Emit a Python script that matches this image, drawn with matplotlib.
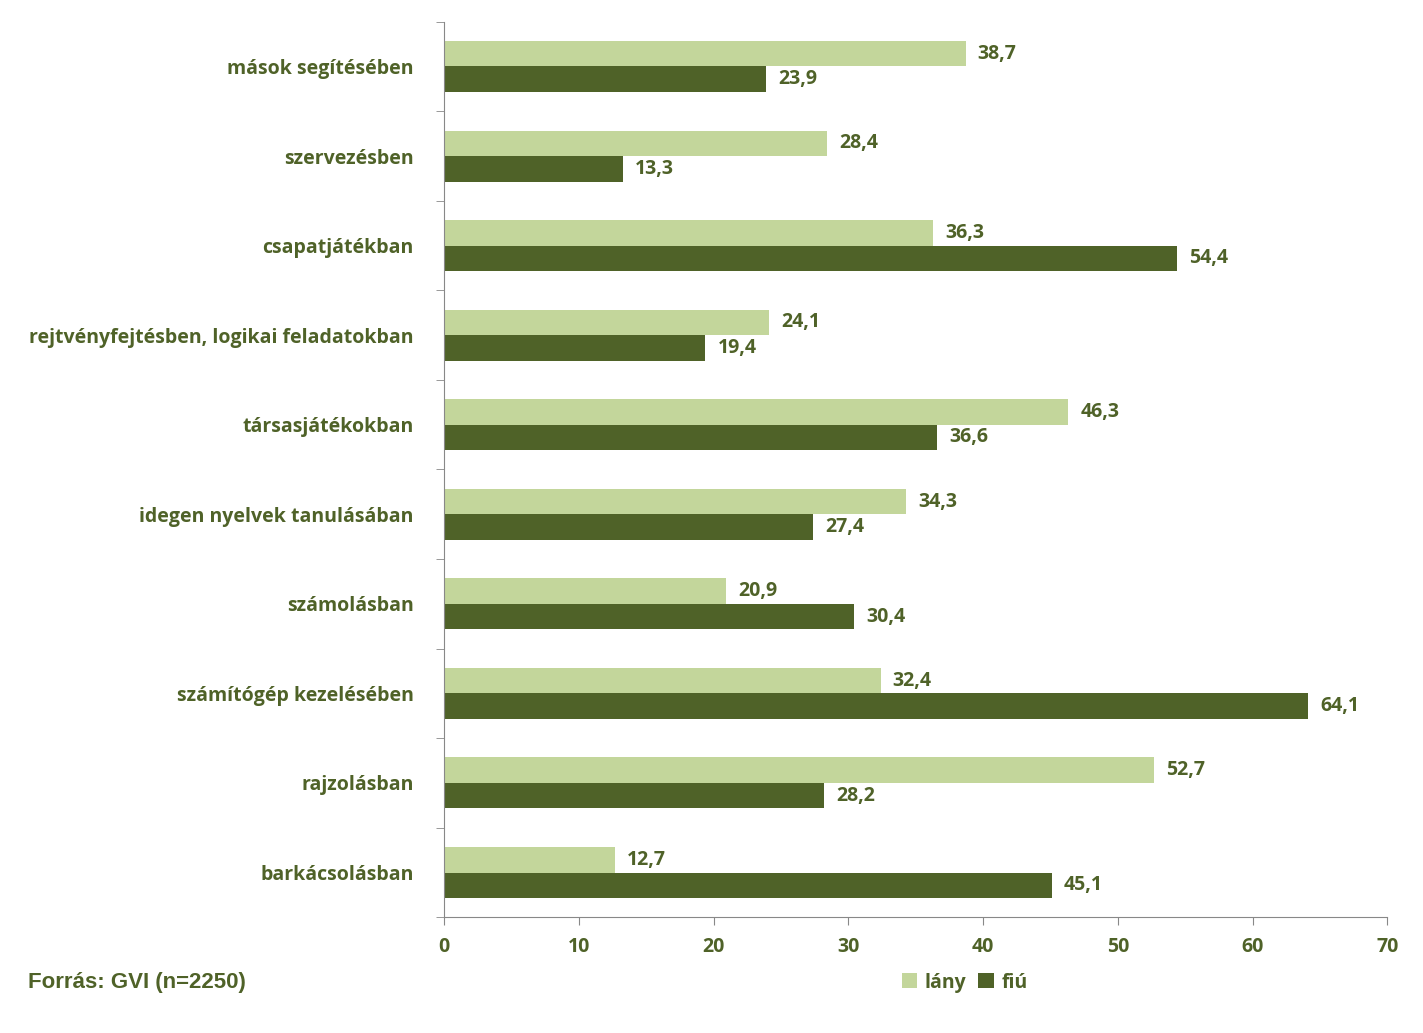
import matplotlib
matplotlib.use("Agg")
import matplotlib.pyplot as plt
import numpy as np

categories = ["mások segítésében", "szervezésben", "csapatjátékban",
              "rejtvényfejtésben, logikai feladatokban", "társasjátékokban",
              "idegen nyelvek tanulásában", "számolásban", "számítógép kezelésében",
              "rajzolásban", "barkácsolásban"]
lany = [38.7, 28.4, 36.3, 24.1, 46.3, 34.3, 20.9, 32.4, 52.7, 12.7]
fiu = [23.9, 13.3, 54.4, 19.4, 36.6, 27.4, 30.4, 64.1, 28.2, 45.1]
xticks = [0, 10, 20, 30, 40, 50, 60, 70]

light = "#C3D69B"
dark = "#4F6228"
tc = "#4F6228"
font = "Open Sans"

fig = plt.figure(figsize=(14.23, 10.33), dpi=100)
ax = fig.add_axes([0.312, 0.112, 0.663, 0.867])
n = len(categories)
y = np.arange(n)[::-1].astype(float)
h = 0.285
ax.barh(y + h/2, lany, height=h, color=light, label="lány")
ax.barh(y - h/2, fiu, height=h, color=dark, label="fiú")
for yi, a, b in zip(y, lany, fiu):
    ax.text(a + 0.9, yi + h/2, f"{a:.1f}".replace(".", ","), va="center", ha="left",
            fontsize=14, fontweight="bold", color=tc, family=font)
    ax.text(b + 0.9, yi - h/2, f"{b:.1f}".replace(".", ","), va="center", ha="left",
            fontsize=14, fontweight="bold", color=tc, family=font)
ax.set_xlim(0, 70)
ax.set_ylim(-0.5, n - 0.5)
ax.set_xticks(xticks)
ax.set_xticklabels([str(t) for t in xticks], fontsize=14, fontweight="bold", color=tc, family=font)
ax.set_yticks(y)
ax.set_yticklabels(categories, fontsize=14, fontweight="bold", color=tc, family=font)
ax.set_yticks(np.arange(n + 1) - 0.5, minor=True)
ax.tick_params(axis="y", which="major", length=0, pad=22)
ax.tick_params(axis="y", which="minor", length=6, color="#888888")
ax.tick_params(axis="x", length=6, color="#888888", pad=8)
for s in ["top", "right"]:
    ax.spines[s].set_visible(False)
for s in ["left", "bottom"]:
    ax.spines[s].set_color("#888888")
leg = ax.legend(loc="center", bbox_to_anchor=(0.552, -0.073), ncol=2, frameon=False,
                handlelength=0.8, handleheight=0.8, handletextpad=0.4, columnspacing=0.6,
                prop={"family": font, "weight": "bold", "size": 14})
for t in leg.get_texts():
    t.set_color(tc)
fig.text(0.02, 0.049, "Forrás: GVI (n=2250)", fontsize=16, fontweight="bold", color=tc,
         family="Liberation Sans", va="center")
fig.savefig("out.png", dpi=100)
